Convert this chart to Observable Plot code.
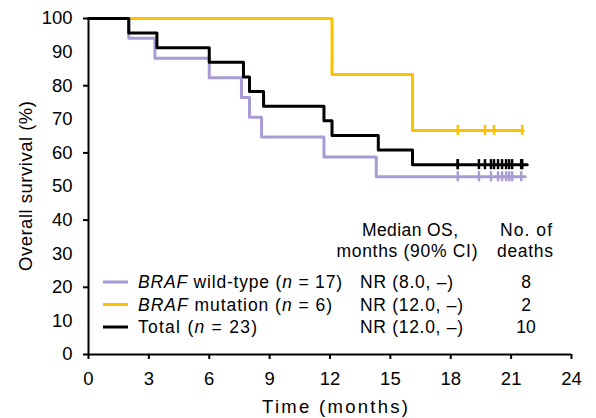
<!DOCTYPE html>
<html>
<head>
<meta charset="utf-8">
<script src="https://cdn.jsdelivr.net/npm/d3@7"></script>
<script src="https://cdn.jsdelivr.net/npm/@observablehq/plot@0.6"></script>
<style>
  html, body { margin: 0; padding: 0; background: #fff; }
  #chart svg { font-family: "Liberation Sans", Arial, sans-serif; }
  #chart svg g.ticklbl text { font-size: 18.5px !important; }
</style>
</head>
<body>
<div id="chart"></div>
<script>
// Kaplan-Meier step points (time in months, survival %)
const wtTimes  = [0, 2.0, 3.3, 6.0, 7.6, 8.0, 8.6, 11.7, 14.3, 21.7];
const wtSurv   = [100, 94.1, 88.2, 82.4, 76.5, 70.6, 64.7, 58.8, 52.9, 52.9];
const wtCensor = [18.35, 19.4, 20.0, 20.35, 20.55, 20.75, 20.9, 21.05, 21.5];

const mutTimes  = [0, 12.1, 16.1, 21.6];
const mutSurv   = [100, 83.3, 66.7, 66.7];
const mutCensor = [18.35, 19.7, 20.15, 21.55];

const totTimes  = [0, 2.0, 3.4, 6.0, 7.7, 8.0, 8.7, 11.7, 12.1, 14.4, 16.1, 21.8];
const totSurv   = [100, 95.7, 91.3, 87.0, 82.6, 78.3, 73.9, 69.6, 65.2, 60.9, 56.5, 56.5];
const totCensor = [18.35, 18.35, 19.4, 19.7, 20.0, 20.15, 20.35, 20.55, 20.75, 20.9, 21.05, 21.5, 21.55];

const seriesNames  = ["wt", "mut", "tot"];
const seriesColors = ["#a99bd3", "#ffc000", "#000000"];
const legendLabels = [
  [{t: "BRAF", i: true}, {t: " wild-type ("}, {t: "n", i: true}, {t: " = 17)"}],
  [{t: "BRAF", i: true}, {t: " mutation ("}, {t: "n", i: true}, {t: " = 6)"}],
  [{t: "Total ("}, {t: "n", i: true}, {t: " = 23)"}]
];
const medianOS = ["NR (8.0, \u2013)", "NR (12.0, \u2013)", "NR (12.0, \u2013)"];
const deaths   = ["8", "2", "10"];
const headerOS = ["Median OS,", "months (90% CI)"];
const headerDeaths = ["No. of", "deaths"];

const xTicks = d3.range(0, 25, 3);
const yLabelTicks = d3.range(0, 101, 10);
const yMarkTicks = d3.range(0, 101, 20);

function steps(name, times, surv) {
  return times.map((t, i) => ({series: name, t, s: surv[i]}));
}
function censors(name, ctimes, times, surv) {
  return ctimes.map(c => {
    let s = surv[0];
    for (let i = 0; i < times.length; i++) if (times[i] <= c) s = surv[i];
    return {series: name, t: c, s};
  });
}
const lineData = [
  ...steps("wt", wtTimes, wtSurv),
  ...steps("mut", mutTimes, mutSurv),
  ...steps("tot", totTimes, totSurv)
];
const censorData = [
  ...censors("wt", wtCensor, wtTimes, wtSurv),
  ...censors("mut", mutCensor, mutTimes, mutSurv),
  ...censors("tot", totCensor, totTimes, totSurv)
];

const color = {domain: seriesNames, range: seriesColors};

const plot = Plot.plot({
  width: 596,
  height: 418,
  marginLeft: 88,
  marginRight: 25,
  marginTop: 18,
  marginBottom: 64,
  style: {fontFamily: "Liberation Sans, Arial, sans-serif", fontSize: "18px", color: "#000", background: "#fff"},
  x: {domain: [0, 24]},
  y: {domain: [0, 100]},
  color,
  marks: [
    ...seriesNames.map(n => Plot.line(lineData.filter(d => d.series === n), {
      x: "t", y: "s", stroke: "series", curve: "step-after", strokeWidth: 3
    })),
    ...seriesNames.map(n => Plot.ruleX(censorData.filter(d => d.series === n), {
      x: "t", y1: d => d.s - 1.5, y2: d => d.s + 1.5, stroke: "series", strokeWidth: 2.5
    })),
    Plot.axisX({ticks: xTicks, tickSize: 5, tickPadding: 12, tickFormat: d => d, label: null, strokeWidth: 2, fontSize: 18.5}),
    Plot.axisY({ticks: yLabelTicks, tickSize: 0, tickPadding: 16, tickFormat: d => d, label: null, fontSize: 18.5}),
    Plot.axisY({ticks: yMarkTicks, tickSize: 5, text: null, label: null, strokeWidth: 2}),
    Plot.ruleY([0], {strokeWidth: 2}),
    Plot.ruleX([0], {strokeWidth: 2})
  ]
});

document.getElementById("chart").appendChild(plot);

const svg = d3.select(plot);
// enlarge every text Plot drew (axis tick labels)
svg.selectAll("text").each(function() {
  this.setAttribute("font-size", "18.5");
  this.style.setProperty("font-size", "18.5px", "important");
});
svg.selectAll("g").each(function() {
  if (this.querySelector("text")) this.classList.add("ticklbl");
});

// Axis titles and legend/table annotation
const g = svg.append("g").attr("font-family", "Liberation Sans, Arial, sans-serif")
  .attr("fill", "#000").attr("text-anchor", "start");

function addText(x, y, str, size, anchor, len) {
  const t = g.append("text").attr("x", x).attr("y", y)
    .attr("text-anchor", anchor).style("font-size", size + "px").text(str);
  if (len) t.attr("textLength", len).attr("lengthAdjust", "spacing");
  return t;
}

addText(335, 413, "Time (months)", 18.5, "middle", 146);
g.append("text").attr("transform", "translate(32,186) rotate(-90)").attr("text-anchor", "middle")
  .style("font-size", "18.5px").attr("textLength", 170).attr("lengthAdjust", "spacing")
  .text("Overall survival (%)");

addText(410, 236, headerOS[0], 17.5, "middle", 96);
addText(407, 257, headerOS[1], 17.5, "middle", 141);
addText(526, 236, headerDeaths[0], 17.5, "middle", 52);
addText(525, 257, headerDeaths[1], 17.5, "middle", 56);

const rowY = [288, 310.5, 333];
const rowLen = [204, 194, 119];
const osLen = [93, 103, 103];
legendLabels.forEach((parts, i) => {
  g.append("line").attr("x1", 103).attr("x2", 128).attr("y1", rowY[i] - 6).attr("y2", rowY[i] - 6)
    .attr("stroke", seriesColors[i]).attr("stroke-width", 3);
  const t = g.append("text").attr("x", 138).attr("y", rowY[i]).attr("text-anchor", "start")
    .style("font-size", "17.5px").attr("textLength", rowLen[i]).attr("lengthAdjust", "spacing");
  parts.forEach(p => t.append("tspan").attr("font-style", p.i ? "italic" : "normal").text(p.t));
  addText(360, rowY[i], medianOS[i], 17.5, "start", osLen[i]);
  addText(526, rowY[i], deaths[i], 17.5, "middle");
});
</script>
</body>
</html>
